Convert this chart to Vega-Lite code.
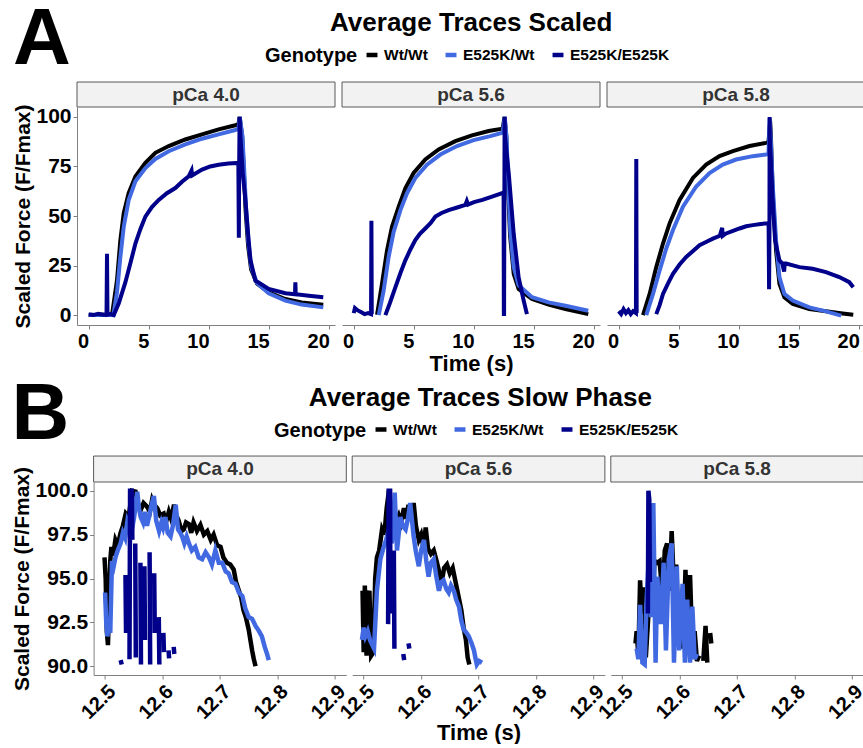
{
 "$schema": "https://vega.github.io/schema/vega-lite/v6.json",
 "padding": {"left": 11, "top": 0, "right": 0, "bottom": 0},
 "background": "white",
 "config": {
  "font": "Liberation Sans",
  "view": {"stroke": null},
  "axis": {"labelFont": "Liberation Sans", "labelFontSize": 20, "labelFontWeight": "bold", "labelColor": "#000000", "titleFont": "Liberation Sans", "titleFontSize": 21, "titleFontWeight": "bold", "titleColor": "#000000", "domainColor": "#808080", "tickColor": "#808080", "tickSize": 4, "grid": false, "labelPadding": 2, "labelFlush": false, "labelOverlap": false},
  "axisX": {"titleFontSize": 22},
  "axisY": {"labelFontSize": 21},
  "legend": {"direction": "horizontal", "titleOrient": "left", "titleFontSize": 20, "titleFontWeight": "bold", "titleColor": "#000000", "labelFontSize": 15.5, "labelFontWeight": "bold", "labelColor": "#000000", "symbolType": "stroke", "symbolStrokeWidth": 4.5, "symbolSize": 120, "columnPadding": 8, "labelOffset": 4, "titlePadding": 6},
  "title": {"font": "Liberation Sans", "fontWeight": "bold", "color": "#000000"}
 },
 "datasets": {
  "scaled": [
   {"p":"4.0","g":"Wt/Wt","t":0,"f":0.2},{"p":"4.0","g":"Wt/Wt","t":0.5,"f":0},{"p":"4.0","g":"Wt/Wt","t":1.0,"f":0.3},{"p":"4.0","g":"Wt/Wt","t":1.5,"f":0},{"p":"4.0","g":"Wt/Wt","t":1.94,"f":0.3},{"p":"4.0","g":"Wt/Wt","t":2.35,"f":17.5},{"p":"4.0","g":"Wt/Wt","t":2.63,"f":37.8},{"p":"4.0","g":"Wt/Wt","t":2.91,"f":51.4},{"p":"4.0","g":"Wt/Wt","t":3.32,"f":61.5},{"p":"4.0","g":"Wt/Wt","t":3.88,"f":70},{"p":"4.0","g":"Wt/Wt","t":4.71,"f":76.8},{"p":"4.0","g":"Wt/Wt","t":5.54,"f":81.9},{"p":"4.0","g":"Wt/Wt","t":6.65,"f":85.3},{"p":"4.0","g":"Wt/Wt","t":8.03,"f":88.6},{"p":"4.0","g":"Wt/Wt","t":9.42,"f":91.2},{"p":"4.0","g":"Wt/Wt","t":10.8,"f":93.7},{"p":"4.0","g":"Wt/Wt","t":12.19,"f":95.8},{"p":"4.0","g":"Wt/Wt","t":12.45,"f":96.3},{"p":"4.0","g":"Wt/Wt","t":12.55,"f":100},{"p":"4.0","g":"Wt/Wt","t":12.76,"f":90},{"p":"4.0","g":"Wt/Wt","t":12.9,"f":72},{"p":"4.0","g":"Wt/Wt","t":13.05,"f":52},{"p":"4.0","g":"Wt/Wt","t":13.25,"f":35},{"p":"4.0","g":"Wt/Wt","t":13.5,"f":23},{"p":"4.0","g":"Wt/Wt","t":14.0,"f":15.8},{"p":"4.0","g":"Wt/Wt","t":14.96,"f":11.5},{"p":"4.0","g":"Wt/Wt","t":16.35,"f":8.1},{"p":"4.0","g":"Wt/Wt","t":17.7,"f":6.4},{"p":"4.0","g":"Wt/Wt","t":19.5,"f":5.2},
   {"p":"4.0","g":"E525K/Wt","t":0,"f":0},{"p":"4.0","g":"E525K/Wt","t":0.5,"f":0.2},{"p":"4.0","g":"E525K/Wt","t":1.0,"f":0},{"p":"4.0","g":"E525K/Wt","t":1.5,"f":0.2},{"p":"4.0","g":"E525K/Wt","t":2.05,"f":0},{"p":"4.0","g":"E525K/Wt","t":2.35,"f":11.5},{"p":"4.0","g":"E525K/Wt","t":2.63,"f":29.3},{"p":"4.0","g":"E525K/Wt","t":2.91,"f":44.6},{"p":"4.0","g":"E525K/Wt","t":3.32,"f":58},{"p":"4.0","g":"E525K/Wt","t":3.88,"f":67.5},{"p":"4.0","g":"E525K/Wt","t":4.71,"f":74.2},{"p":"4.0","g":"E525K/Wt","t":5.54,"f":78.8},{"p":"4.0","g":"E525K/Wt","t":6.65,"f":82.7},{"p":"4.0","g":"E525K/Wt","t":8.03,"f":86.1},{"p":"4.0","g":"E525K/Wt","t":9.42,"f":89},{"p":"4.0","g":"E525K/Wt","t":10.8,"f":91.2},{"p":"4.0","g":"E525K/Wt","t":12.19,"f":93.4},{"p":"4.0","g":"E525K/Wt","t":12.45,"f":94},{"p":"4.0","g":"E525K/Wt","t":12.556,"f":100},{"p":"4.0","g":"E525K/Wt","t":12.78,"f":90.4},{"p":"4.0","g":"E525K/Wt","t":12.92,"f":74},{"p":"4.0","g":"E525K/Wt","t":13.07,"f":55},{"p":"4.0","g":"E525K/Wt","t":13.27,"f":37},{"p":"4.0","g":"E525K/Wt","t":13.52,"f":24},{"p":"4.0","g":"E525K/Wt","t":14.0,"f":16.1},{"p":"4.0","g":"E525K/Wt","t":14.96,"f":11},{"p":"4.0","g":"E525K/Wt","t":16.35,"f":7.3},{"p":"4.0","g":"E525K/Wt","t":17.7,"f":5.3},{"p":"4.0","g":"E525K/Wt","t":19.5,"f":3.9},
   {"p":"4.0","g":"E525K/E525K","t":0,"f":0.3},{"p":"4.0","g":"E525K/E525K","t":0.4,"f":0},{"p":"4.0","g":"E525K/E525K","t":0.8,"f":0.6},{"p":"4.0","g":"E525K/E525K","t":1.2,"f":0.2},{"p":"4.0","g":"E525K/E525K","t":1.48,"f":0.3},{"p":"4.0","g":"E525K/E525K","t":1.52,"f":31},{"p":"4.0","g":"E525K/E525K","t":1.56,"f":0.2},{"p":"4.0","g":"E525K/E525K","t":1.8,"f":0.5},{"p":"4.0","g":"E525K/E525K","t":2.08,"f":0},{"p":"4.0","g":"E525K/E525K","t":2.5,"f":6},{"p":"4.0","g":"E525K/E525K","t":3.05,"f":16.6},{"p":"4.0","g":"E525K/E525K","t":3.5,"f":27},{"p":"4.0","g":"E525K/E525K","t":3.88,"f":36.1},{"p":"4.0","g":"E525K/E525K","t":4.3,"f":43.5},{"p":"4.0","g":"E525K/E525K","t":4.71,"f":49.7},{"p":"4.0","g":"E525K/E525K","t":5.25,"f":54.5},{"p":"4.0","g":"E525K/E525K","t":5.82,"f":58.1},{"p":"4.0","g":"E525K/E525K","t":6.5,"f":61.5},{"p":"4.0","g":"E525K/E525K","t":7.2,"f":64.1},{"p":"4.0","g":"E525K/E525K","t":7.8,"f":67.5},{"p":"4.0","g":"E525K/E525K","t":8.31,"f":70},{"p":"4.0","g":"E525K/E525K","t":8.55,"f":73},{"p":"4.0","g":"E525K/E525K","t":8.6,"f":70.5},{"p":"4.0","g":"E525K/E525K","t":9.42,"f":73.4},{"p":"4.0","g":"E525K/E525K","t":10.1,"f":75},{"p":"4.0","g":"E525K/E525K","t":10.8,"f":75.9},{"p":"4.0","g":"E525K/E525K","t":11.6,"f":76.5},{"p":"4.0","g":"E525K/E525K","t":12.44,"f":76.8},{"p":"4.0","g":"E525K/E525K","t":12.48,"f":39},{"p":"4.0","g":"E525K/E525K","t":12.51,"f":78},{"p":"4.0","g":"E525K/E525K","t":12.545,"f":100},{"p":"4.0","g":"E525K/E525K","t":12.62,"f":90},{"p":"4.0","g":"E525K/E525K","t":12.8,"f":72},{"p":"4.0","g":"E525K/E525K","t":13.0,"f":60},{"p":"4.0","g":"E525K/E525K","t":13.25,"f":41},{"p":"4.0","g":"E525K/E525K","t":13.44,"f":28},{"p":"4.0","g":"E525K/E525K","t":13.85,"f":17.5},{"p":"4.0","g":"E525K/E525K","t":14.96,"f":13.2},{"p":"4.0","g":"E525K/E525K","t":16.35,"f":11},{"p":"4.0","g":"E525K/E525K","t":17.15,"f":10.5},{"p":"4.0","g":"E525K/E525K","t":17.18,"f":16.6},{"p":"4.0","g":"E525K/E525K","t":17.21,"f":10.5},{"p":"4.0","g":"E525K/E525K","t":18.3,"f":9.8},{"p":"4.0","g":"E525K/E525K","t":19.5,"f":9},
   {"p":"5.6","g":"Wt/Wt","t":1.94,"f":0.2},{"p":"5.6","g":"Wt/Wt","t":2.35,"f":15.8},{"p":"5.6","g":"Wt/Wt","t":2.77,"f":32.7},{"p":"5.6","g":"Wt/Wt","t":3.18,"f":44.6},{"p":"5.6","g":"Wt/Wt","t":3.74,"f":54.7},{"p":"5.6","g":"Wt/Wt","t":4.29,"f":64},{"p":"5.6","g":"Wt/Wt","t":4.98,"f":71.7},{"p":"5.6","g":"Wt/Wt","t":5.95,"f":78.5},{"p":"5.6","g":"Wt/Wt","t":7.06,"f":83.6},{"p":"5.6","g":"Wt/Wt","t":8.45,"f":87.8},{"p":"5.6","g":"Wt/Wt","t":9.83,"f":90.7},{"p":"5.6","g":"Wt/Wt","t":11.22,"f":92.9},{"p":"5.6","g":"Wt/Wt","t":12.38,"f":94.1},{"p":"5.6","g":"Wt/Wt","t":12.544,"f":100},{"p":"5.6","g":"Wt/Wt","t":12.684,"f":90},{"p":"5.6","g":"Wt/Wt","t":12.8,"f":68},{"p":"5.6","g":"Wt/Wt","t":13.0,"f":40},{"p":"5.6","g":"Wt/Wt","t":13.3,"f":20.8},{"p":"5.6","g":"Wt/Wt","t":13.71,"f":13.2},{"p":"5.6","g":"Wt/Wt","t":14.82,"f":8.1},{"p":"5.6","g":"Wt/Wt","t":16.2,"f":5.3},{"p":"5.6","g":"Wt/Wt","t":17.6,"f":3},{"p":"5.6","g":"Wt/Wt","t":19.5,"f":0.5},
   {"p":"5.6","g":"E525K/Wt","t":2.08,"f":0},{"p":"5.6","g":"E525K/Wt","t":2.49,"f":12.4},{"p":"5.6","g":"E525K/Wt","t":2.9,"f":29.3},{"p":"5.6","g":"E525K/Wt","t":3.32,"f":42},{"p":"5.6","g":"E525K/Wt","t":3.88,"f":53},{"p":"5.6","g":"E525K/Wt","t":4.43,"f":61.5},{"p":"5.6","g":"E525K/Wt","t":5.12,"f":69.2},{"p":"5.6","g":"E525K/Wt","t":6.09,"f":75.9},{"p":"5.6","g":"E525K/Wt","t":7.2,"f":81},{"p":"5.6","g":"E525K/Wt","t":8.59,"f":85.3},{"p":"5.6","g":"E525K/Wt","t":9.97,"f":88.3},{"p":"5.6","g":"E525K/Wt","t":11.36,"f":90.3},{"p":"5.6","g":"E525K/Wt","t":12.38,"f":92},{"p":"5.6","g":"E525K/Wt","t":12.554,"f":100},{"p":"5.6","g":"E525K/Wt","t":12.706,"f":90},{"p":"5.6","g":"E525K/Wt","t":12.82,"f":70},{"p":"5.6","g":"E525K/Wt","t":13.02,"f":42},{"p":"5.6","g":"E525K/Wt","t":13.3,"f":24.2},{"p":"5.6","g":"E525K/Wt","t":13.71,"f":15},{"p":"5.6","g":"E525K/Wt","t":14.82,"f":9},{"p":"5.6","g":"E525K/Wt","t":16.2,"f":6.4},{"p":"5.6","g":"E525K/Wt","t":17.6,"f":4.7},{"p":"5.6","g":"E525K/Wt","t":19.5,"f":2.2},
   {"p":"5.6","g":"E525K/E525K","t":0,"f":1},{"p":"5.6","g":"E525K/E525K","t":0.1,"f":3.5},{"p":"5.6","g":"E525K/E525K","t":0.3,"f":2.5},{"p":"5.6","g":"E525K/E525K","t":0.6,"f":1.5},{"p":"5.6","g":"E525K/E525K","t":0.9,"f":0.5},{"p":"5.6","g":"E525K/E525K","t":1.2,"f":1},{"p":"5.6","g":"E525K/E525K","t":1.44,"f":0.5},{"p":"5.6","g":"E525K/E525K","t":1.47,"f":47.6},{"p":"5.6","g":"E525K/E525K","t":1.5,"f":0.5},{"p":"5.6","g":"E525K/E525K","t":1.52,"f":null},{"p":"5.6","g":"E525K/E525K","t":2.63,"f":0},{"p":"5.6","g":"E525K/E525K","t":3.0,"f":6},{"p":"5.6","g":"E525K/E525K","t":3.46,"f":14},{"p":"5.6","g":"E525K/E525K","t":3.9,"f":21.5},{"p":"5.6","g":"E525K/E525K","t":4.29,"f":27.6},{"p":"5.6","g":"E525K/E525K","t":4.7,"f":33},{"p":"5.6","g":"E525K/E525K","t":5.12,"f":37.8},{"p":"5.6","g":"E525K/E525K","t":5.5,"f":41},{"p":"5.6","g":"E525K/E525K","t":5.95,"f":43.7},{"p":"5.6","g":"E525K/E525K","t":6.4,"f":46.5},{"p":"5.6","g":"E525K/E525K","t":6.79,"f":49.7},{"p":"5.6","g":"E525K/E525K","t":7.3,"f":51.5},{"p":"5.6","g":"E525K/E525K","t":7.89,"f":53},{"p":"5.6","g":"E525K/E525K","t":8.6,"f":54.3},{"p":"5.6","g":"E525K/E525K","t":9.28,"f":55.6},{"p":"5.6","g":"E525K/E525K","t":9.4,"f":57.5},{"p":"5.6","g":"E525K/E525K","t":9.5,"f":55.8},{"p":"5.6","g":"E525K/E525K","t":10.0,"f":57},{"p":"5.6","g":"E525K/E525K","t":10.7,"f":58.1},{"p":"5.6","g":"E525K/E525K","t":11.5,"f":59.8},{"p":"5.6","g":"E525K/E525K","t":12.33,"f":61.5},{"p":"5.6","g":"E525K/E525K","t":12.46,"f":62},{"p":"5.6","g":"E525K/E525K","t":12.48,"f":0.5},{"p":"5.6","g":"E525K/E525K","t":12.5,"f":0.5},{"p":"5.6","g":"E525K/E525K","t":12.543,"f":100},{"p":"5.6","g":"E525K/E525K","t":12.58,"f":90},{"p":"5.6","g":"E525K/E525K","t":12.88,"f":72},{"p":"5.6","g":"E525K/E525K","t":13.3,"f":41},{"p":"5.6","g":"E525K/E525K","t":13.71,"f":19},{"p":"5.6","g":"E525K/E525K","t":14.13,"f":7.3},{"p":"5.6","g":"E525K/E525K","t":14.4,"f":0.5},
   {"p":"5.8","g":"Wt/Wt","t":2.02,"f":0},{"p":"5.8","g":"Wt/Wt","t":2.57,"f":10.7},{"p":"5.8","g":"Wt/Wt","t":3.12,"f":24.2},{"p":"5.8","g":"Wt/Wt","t":3.68,"f":36.1},{"p":"5.8","g":"Wt/Wt","t":4.23,"f":46.3},{"p":"5.8","g":"Wt/Wt","t":5.06,"f":58.1},{"p":"5.8","g":"Wt/Wt","t":6.17,"f":69.2},{"p":"5.8","g":"Wt/Wt","t":7.27,"f":75.9},{"p":"5.8","g":"Wt/Wt","t":8.38,"f":80.2},{"p":"5.8","g":"Wt/Wt","t":9.49,"f":82.7},{"p":"5.8","g":"Wt/Wt","t":10.87,"f":85.3},{"p":"5.8","g":"Wt/Wt","t":12.25,"f":86.9},{"p":"5.8","g":"Wt/Wt","t":12.45,"f":87.2},{"p":"5.8","g":"Wt/Wt","t":12.59,"f":97.7},{"p":"5.8","g":"Wt/Wt","t":12.655,"f":90},{"p":"5.8","g":"Wt/Wt","t":12.8,"f":62},{"p":"5.8","g":"Wt/Wt","t":13.08,"f":32.7},{"p":"5.8","g":"Wt/Wt","t":13.36,"f":15.8},{"p":"5.8","g":"Wt/Wt","t":13.77,"f":9},{"p":"5.8","g":"Wt/Wt","t":14.47,"f":5.6},{"p":"5.8","g":"Wt/Wt","t":15.85,"f":3},{"p":"5.8","g":"Wt/Wt","t":17.23,"f":1.9},{"p":"5.8","g":"Wt/Wt","t":18.61,"f":0.8},{"p":"5.8","g":"Wt/Wt","t":19.5,"f":0.2},
   {"p":"5.8","g":"E525K/Wt","t":2.29,"f":0},{"p":"5.8","g":"E525K/Wt","t":2.85,"f":10.7},{"p":"5.8","g":"E525K/Wt","t":3.4,"f":22.5},{"p":"5.8","g":"E525K/Wt","t":3.95,"f":33.6},{"p":"5.8","g":"E525K/Wt","t":4.51,"f":42.9},{"p":"5.8","g":"E525K/Wt","t":5.34,"f":54.7},{"p":"5.8","g":"E525K/Wt","t":6.44,"f":64.9},{"p":"5.8","g":"E525K/Wt","t":7.55,"f":71.7},{"p":"5.8","g":"E525K/Wt","t":8.65,"f":75.9},{"p":"5.8","g":"E525K/Wt","t":9.76,"f":78.5},{"p":"5.8","g":"E525K/Wt","t":11.15,"f":80.2},{"p":"5.8","g":"E525K/Wt","t":12.25,"f":81},{"p":"5.8","g":"E525K/Wt","t":12.45,"f":81.2},{"p":"5.8","g":"E525K/Wt","t":12.554,"f":99.3},{"p":"5.8","g":"E525K/Wt","t":12.63,"f":90},{"p":"5.8","g":"E525K/Wt","t":12.8,"f":66},{"p":"5.8","g":"E525K/Wt","t":13.08,"f":37.8},{"p":"5.8","g":"E525K/Wt","t":13.36,"f":19.2},{"p":"5.8","g":"E525K/Wt","t":13.77,"f":10.7},{"p":"5.8","g":"E525K/Wt","t":14.47,"f":7.3},{"p":"5.8","g":"E525K/Wt","t":15.85,"f":3.9},{"p":"5.8","g":"E525K/Wt","t":17.23,"f":1.9},{"p":"5.8","g":"E525K/Wt","t":18.34,"f":0},{"p":"5.8","g":"E525K/Wt","t":18.5,"f":-0.3},
   {"p":"5.8","g":"E525K/E525K","t":0,"f":2},{"p":"5.8","g":"E525K/E525K","t":0.2,"f":0.5},{"p":"5.8","g":"E525K/E525K","t":0.4,"f":3},{"p":"5.8","g":"E525K/E525K","t":0.6,"f":1},{"p":"5.8","g":"E525K/E525K","t":0.8,"f":2.5},{"p":"5.8","g":"E525K/E525K","t":1.0,"f":0.5},{"p":"5.8","g":"E525K/E525K","t":1.2,"f":2},{"p":"5.8","g":"E525K/E525K","t":1.43,"f":1},{"p":"5.8","g":"E525K/E525K","t":1.46,"f":78.8},{"p":"5.8","g":"E525K/E525K","t":1.49,"f":1},{"p":"5.8","g":"E525K/E525K","t":1.52,"f":null},{"p":"5.8","g":"E525K/E525K","t":3.12,"f":0.5},{"p":"5.8","g":"E525K/E525K","t":3.4,"f":5},{"p":"5.8","g":"E525K/E525K","t":3.68,"f":10.7},{"p":"5.8","g":"E525K/E525K","t":4.1,"f":16},{"p":"5.8","g":"E525K/E525K","t":4.51,"f":20.8},{"p":"5.8","g":"E525K/E525K","t":5.06,"f":25.5},{"p":"5.8","g":"E525K/E525K","t":5.61,"f":29.3},{"p":"5.8","g":"E525K/E525K","t":6.2,"f":32.5},{"p":"5.8","g":"E525K/E525K","t":6.72,"f":35.3},{"p":"5.8","g":"E525K/E525K","t":7.3,"f":37},{"p":"5.8","g":"E525K/E525K","t":7.83,"f":38.6},{"p":"5.8","g":"E525K/E525K","t":8.4,"f":40},{"p":"5.8","g":"E525K/E525K","t":8.6,"f":44},{"p":"5.8","g":"E525K/E525K","t":8.65,"f":40},{"p":"5.8","g":"E525K/E525K","t":8.93,"f":41.2},{"p":"5.8","g":"E525K/E525K","t":9.5,"f":42.5},{"p":"5.8","g":"E525K/E525K","t":10.04,"f":43.7},{"p":"5.8","g":"E525K/E525K","t":10.6,"f":44.8},{"p":"5.8","g":"E525K/E525K","t":11.15,"f":45.4},{"p":"5.8","g":"E525K/E525K","t":11.8,"f":46},{"p":"5.8","g":"E525K/E525K","t":12.39,"f":46.3},{"p":"5.8","g":"E525K/E525K","t":12.46,"f":46.5},{"p":"5.8","g":"E525K/E525K","t":12.5,"f":13},{"p":"5.8","g":"E525K/E525K","t":12.53,"f":40},{"p":"5.8","g":"E525K/E525K","t":12.545,"f":100},{"p":"5.8","g":"E525K/E525K","t":12.56,"f":90},{"p":"5.8","g":"E525K/E525K","t":12.8,"f":58},{"p":"5.8","g":"E525K/E525K","t":13.0,"f":37.8},{"p":"5.8","g":"E525K/E525K","t":13.36,"f":27.6},{"p":"5.8","g":"E525K/E525K","t":13.6,"f":26},{"p":"5.8","g":"E525K/E525K","t":13.75,"f":22},{"p":"5.8","g":"E525K/E525K","t":13.8,"f":26},{"p":"5.8","g":"E525K/E525K","t":13.91,"f":26},{"p":"5.8","g":"E525K/E525K","t":15.02,"f":24.2},{"p":"5.8","g":"E525K/E525K","t":16.12,"f":23.4},{"p":"5.8","g":"E525K/E525K","t":17.23,"f":21.7},{"p":"5.8","g":"E525K/E525K","t":18.34,"f":19.2},{"p":"5.8","g":"E525K/E525K","t":19.17,"f":16.6},{"p":"5.8","g":"E525K/E525K","t":19.5,"f":14}
  ],
  "slow": [
   {"p":"4.0","g":"Wt/Wt","t":12.499,"f":96.2},{"p":"4.0","g":"Wt/Wt","t":12.501,"f":95.0},{"p":"4.0","g":"Wt/Wt","t":12.503,"f":92.0},{"p":"4.0","g":"Wt/Wt","t":12.505,"f":91.2},{"p":"4.0","g":"Wt/Wt","t":12.507,"f":93.5},{"p":"4.0","g":"Wt/Wt","t":12.509,"f":96.0},{"p":"4.0","g":"Wt/Wt","t":12.511,"f":96.8},{"p":"4.0","g":"Wt/Wt","t":12.514,"f":96.3},{"p":"4.0","g":"Wt/Wt","t":12.518,"f":97.2},{"p":"4.0","g":"Wt/Wt","t":12.522,"f":96.9},{"p":"4.0","g":"Wt/Wt","t":12.527,"f":97.6},{"p":"4.0","g":"Wt/Wt","t":12.531,"f":98.0},{"p":"4.0","g":"Wt/Wt","t":12.536,"f":98.7},{"p":"4.0","g":"Wt/Wt","t":12.541,"f":98.5},{"p":"4.0","g":"Wt/Wt","t":12.544,"f":99.2},{"p":"4.0","g":"Wt/Wt","t":12.547,"f":100.0},{"p":"4.0","g":"Wt/Wt","t":12.553,"f":99.95},{"p":"4.0","g":"Wt/Wt","t":12.557,"f":99.3},{"p":"4.0","g":"Wt/Wt","t":12.562,"f":98.9},{"p":"4.0","g":"Wt/Wt","t":12.567,"f":99.3},{"p":"4.0","g":"Wt/Wt","t":12.573,"f":99.1},{"p":"4.0","g":"Wt/Wt","t":12.578,"f":98.8},{"p":"4.0","g":"Wt/Wt","t":12.582,"f":99.5},{"p":"4.0","g":"Wt/Wt","t":12.586,"f":99.2},{"p":"4.0","g":"Wt/Wt","t":12.591,"f":99.0},{"p":"4.0","g":"Wt/Wt","t":12.596,"f":98.6},{"p":"4.0","g":"Wt/Wt","t":12.602,"f":98.7},{"p":"4.0","g":"Wt/Wt","t":12.606,"f":98.2},{"p":"4.0","g":"Wt/Wt","t":12.611,"f":98.8},{"p":"4.0","g":"Wt/Wt","t":12.615,"f":98.4},{"p":"4.0","g":"Wt/Wt","t":12.62,"f":99.2},{"p":"4.0","g":"Wt/Wt","t":12.624,"f":98.6},{"p":"4.0","g":"Wt/Wt","t":12.628,"f":98.3},{"p":"4.0","g":"Wt/Wt","t":12.633,"f":97.7},{"p":"4.0","g":"Wt/Wt","t":12.637,"f":97.8},{"p":"4.0","g":"Wt/Wt","t":12.641,"f":98.2},{"p":"4.0","g":"Wt/Wt","t":12.646,"f":98.1},{"p":"4.0","g":"Wt/Wt","t":12.65,"f":97.6},{"p":"4.0","g":"Wt/Wt","t":12.654,"f":98.2},{"p":"4.0","g":"Wt/Wt","t":12.66,"f":97.7},{"p":"4.0","g":"Wt/Wt","t":12.666,"f":98.05},{"p":"4.0","g":"Wt/Wt","t":12.672,"f":97.5},{"p":"4.0","g":"Wt/Wt","t":12.678,"f":97.7},{"p":"4.0","g":"Wt/Wt","t":12.684,"f":97.2},{"p":"4.0","g":"Wt/Wt","t":12.689,"f":97.5},{"p":"4.0","g":"Wt/Wt","t":12.695,"f":96.9},{"p":"4.0","g":"Wt/Wt","t":12.701,"f":96.8},{"p":"4.0","g":"Wt/Wt","t":12.706,"f":96.2},{"p":"4.0","g":"Wt/Wt","t":12.712,"f":95.9},{"p":"4.0","g":"Wt/Wt","t":12.718,"f":95.8},{"p":"4.0","g":"Wt/Wt","t":12.724,"f":95.5},{"p":"4.0","g":"Wt/Wt","t":12.728,"f":94.8},{"p":"4.0","g":"Wt/Wt","t":12.733,"f":94.3},{"p":"4.0","g":"Wt/Wt","t":12.737,"f":93.9},{"p":"4.0","g":"Wt/Wt","t":12.741,"f":93.2},{"p":"4.0","g":"Wt/Wt","t":12.745,"f":92.8},{"p":"4.0","g":"Wt/Wt","t":12.75,"f":92.1},{"p":"4.0","g":"Wt/Wt","t":12.753,"f":91.5},{"p":"4.0","g":"Wt/Wt","t":12.756,"f":90.9},{"p":"4.0","g":"Wt/Wt","t":12.759,"f":90.4},{"p":"4.0","g":"Wt/Wt","t":12.762,"f":90.0},
   {"p":"4.0","g":"E525K/Wt","t":12.5,"f":94.2},{"p":"4.0","g":"E525K/Wt","t":12.502,"f":92.5},{"p":"4.0","g":"E525K/Wt","t":12.504,"f":91.7},{"p":"4.0","g":"E525K/Wt","t":12.507,"f":92.5},{"p":"4.0","g":"E525K/Wt","t":12.509,"f":91.9},{"p":"4.0","g":"E525K/Wt","t":12.512,"f":96.0},{"p":"4.0","g":"E525K/Wt","t":12.515,"f":95.7},{"p":"4.0","g":"E525K/Wt","t":12.518,"f":96.2},{"p":"4.0","g":"E525K/Wt","t":12.522,"f":96.6},{"p":"4.0","g":"E525K/Wt","t":12.527,"f":97.0},{"p":"4.0","g":"E525K/Wt","t":12.531,"f":97.6},{"p":"4.0","g":"E525K/Wt","t":12.535,"f":97.3},{"p":"4.0","g":"E525K/Wt","t":12.539,"f":98.3},{"p":"4.0","g":"E525K/Wt","t":12.543,"f":98.0},{"p":"4.0","g":"E525K/Wt","t":12.547,"f":97.8},{"p":"4.0","g":"E525K/Wt","t":12.551,"f":98.6},{"p":"4.0","g":"E525K/Wt","t":12.556,"f":99.95},{"p":"4.0","g":"E525K/Wt","t":12.559,"f":99.0},{"p":"4.0","g":"E525K/Wt","t":12.562,"f":98.5},{"p":"4.0","g":"E525K/Wt","t":12.566,"f":98.2},{"p":"4.0","g":"E525K/Wt","t":12.569,"f":98.8},{"p":"4.0","g":"E525K/Wt","t":12.573,"f":98.0},{"p":"4.0","g":"E525K/Wt","t":12.577,"f":98.6},{"p":"4.0","g":"E525K/Wt","t":12.581,"f":99.2},{"p":"4.0","g":"E525K/Wt","t":12.585,"f":99.7},{"p":"4.0","g":"E525K/Wt","t":12.589,"f":98.3},{"p":"4.0","g":"E525K/Wt","t":12.594,"f":97.7},{"p":"4.0","g":"E525K/Wt","t":12.598,"f":98.2},{"p":"4.0","g":"E525K/Wt","t":12.601,"f":97.9},{"p":"4.0","g":"E525K/Wt","t":12.605,"f":98.5},{"p":"4.0","g":"E525K/Wt","t":12.609,"f":97.6},{"p":"4.0","g":"E525K/Wt","t":12.614,"f":97.4},{"p":"4.0","g":"E525K/Wt","t":12.618,"f":98.0},{"p":"4.0","g":"E525K/Wt","t":12.623,"f":99.2},{"p":"4.0","g":"E525K/Wt","t":12.627,"f":97.8},{"p":"4.0","g":"E525K/Wt","t":12.631,"f":97.6},{"p":"4.0","g":"E525K/Wt","t":12.634,"f":97.4},{"p":"4.0","g":"E525K/Wt","t":12.638,"f":97.0},{"p":"4.0","g":"E525K/Wt","t":12.642,"f":97.4},{"p":"4.0","g":"E525K/Wt","t":12.646,"f":97.0},{"p":"4.0","g":"E525K/Wt","t":12.651,"f":96.6},{"p":"4.0","g":"E525K/Wt","t":12.657,"f":96.8},{"p":"4.0","g":"E525K/Wt","t":12.663,"f":96.2},{"p":"4.0","g":"E525K/Wt","t":12.669,"f":96.1},{"p":"4.0","g":"E525K/Wt","t":12.675,"f":96.5},{"p":"4.0","g":"E525K/Wt","t":12.681,"f":96.2},{"p":"4.0","g":"E525K/Wt","t":12.686,"f":95.8},{"p":"4.0","g":"E525K/Wt","t":12.692,"f":96.6},{"p":"4.0","g":"E525K/Wt","t":12.698,"f":95.9},{"p":"4.0","g":"E525K/Wt","t":12.704,"f":95.9},{"p":"4.0","g":"E525K/Wt","t":12.71,"f":95.4},{"p":"4.0","g":"E525K/Wt","t":12.715,"f":95.3},{"p":"4.0","g":"E525K/Wt","t":12.721,"f":94.8},{"p":"4.0","g":"E525K/Wt","t":12.727,"f":94.7},{"p":"4.0","g":"E525K/Wt","t":12.733,"f":94.2},{"p":"4.0","g":"E525K/Wt","t":12.739,"f":94.0},{"p":"4.0","g":"E525K/Wt","t":12.744,"f":93.3},{"p":"4.0","g":"E525K/Wt","t":12.75,"f":92.8},{"p":"4.0","g":"E525K/Wt","t":12.756,"f":92.7},{"p":"4.0","g":"E525K/Wt","t":12.762,"f":92.3},{"p":"4.0","g":"E525K/Wt","t":12.768,"f":92.0},{"p":"4.0","g":"E525K/Wt","t":12.773,"f":91.7},{"p":"4.0","g":"E525K/Wt","t":12.778,"f":91.1},{"p":"4.0","g":"E525K/Wt","t":12.782,"f":90.7},{"p":"4.0","g":"E525K/Wt","t":12.785,"f":90.35},
   {"p":"4.0","g":"E525K/E525K","t":12.527,"f":90.35},{"p":"4.0","g":"E525K/E525K","t":12.529,"f":90.1},{"p":"4.0","g":"E525K/E525K","t":12.53,"f":null},{"p":"4.0","g":"E525K/E525K","t":12.5355,"f":95.2},{"p":"4.0","g":"E525K/E525K","t":12.5365,"f":91.9},{"p":"4.0","g":"E525K/E525K","t":12.538,"f":null},{"p":"4.0","g":"E525K/E525K","t":12.5425,"f":90.4},{"p":"4.0","g":"E525K/E525K","t":12.5435,"f":100},{"p":"4.0","g":"E525K/E525K","t":12.5465,"f":100},{"p":"4.0","g":"E525K/E525K","t":12.5475,"f":97.2},{"p":"4.0","g":"E525K/E525K","t":12.549,"f":null},{"p":"4.0","g":"E525K/E525K","t":12.5525,"f":97.0},{"p":"4.0","g":"E525K/E525K","t":12.5535,"f":90.5},{"p":"4.0","g":"E525K/E525K","t":12.555,"f":null},{"p":"4.0","g":"E525K/E525K","t":12.5615,"f":95.9},{"p":"4.0","g":"E525K/E525K","t":12.5625,"f":90.1},{"p":"4.0","g":"E525K/E525K","t":12.564,"f":null},{"p":"4.0","g":"E525K/E525K","t":12.5685,"f":95.7},{"p":"4.0","g":"E525K/E525K","t":12.5695,"f":91.5},{"p":"4.0","g":"E525K/E525K","t":12.571,"f":null},{"p":"4.0","g":"E525K/E525K","t":12.5775,"f":96.5},{"p":"4.0","g":"E525K/E525K","t":12.5785,"f":90.1},{"p":"4.0","g":"E525K/E525K","t":12.58,"f":null},{"p":"4.0","g":"E525K/E525K","t":12.5855,"f":95.3},{"p":"4.0","g":"E525K/E525K","t":12.5865,"f":91.9},{"p":"4.0","g":"E525K/E525K","t":12.588,"f":null},{"p":"4.0","g":"E525K/E525K","t":12.5935,"f":92.8},{"p":"4.0","g":"E525K/E525K","t":12.5945,"f":90.1},{"p":"4.0","g":"E525K/E525K","t":12.596,"f":null},{"p":"4.0","g":"E525K/E525K","t":12.6015,"f":91.9},{"p":"4.0","g":"E525K/E525K","t":12.6025,"f":90.8},{"p":"4.0","g":"E525K/E525K","t":12.604,"f":null},{"p":"4.0","g":"E525K/E525K","t":12.6105,"f":90.9},{"p":"4.0","g":"E525K/E525K","t":12.6115,"f":90.45},{"p":"4.0","g":"E525K/E525K","t":12.613,"f":null},{"p":"4.0","g":"E525K/E525K","t":12.6195,"f":91.1},{"p":"4.0","g":"E525K/E525K","t":12.6205,"f":90.7},
   {"p":"5.6","g":"Wt/Wt","t":12.498,"f":94.3},{"p":"5.6","g":"Wt/Wt","t":12.5,"f":90.8},{"p":"5.6","g":"Wt/Wt","t":12.502,"f":94.6},{"p":"5.6","g":"Wt/Wt","t":12.505,"f":90.6},{"p":"5.6","g":"Wt/Wt","t":12.508,"f":94.0},{"p":"5.6","g":"Wt/Wt","t":12.51,"f":94.3},{"p":"5.6","g":"Wt/Wt","t":12.513,"f":90.6},{"p":"5.6","g":"Wt/Wt","t":12.517,"f":90.8},{"p":"5.6","g":"Wt/Wt","t":12.52,"f":95.0},{"p":"5.6","g":"Wt/Wt","t":12.523,"f":96.2},{"p":"5.6","g":"Wt/Wt","t":12.527,"f":96.6},{"p":"5.6","g":"Wt/Wt","t":12.532,"f":97.8},{"p":"5.6","g":"Wt/Wt","t":12.536,"f":97.5},{"p":"5.6","g":"Wt/Wt","t":12.54,"f":99.0},{"p":"5.6","g":"Wt/Wt","t":12.544,"f":100.0},{"p":"5.6","g":"Wt/Wt","t":12.548,"f":98.0},{"p":"5.6","g":"Wt/Wt","t":12.552,"f":98.9},{"p":"5.6","g":"Wt/Wt","t":12.557,"f":98.3},{"p":"5.6","g":"Wt/Wt","t":12.561,"f":98.6},{"p":"5.6","g":"Wt/Wt","t":12.565,"f":98.2},{"p":"5.6","g":"Wt/Wt","t":12.57,"f":99.0},{"p":"5.6","g":"Wt/Wt","t":12.574,"f":98.4},{"p":"5.6","g":"Wt/Wt","t":12.578,"f":99.2},{"p":"5.6","g":"Wt/Wt","t":12.582,"f":98.3},{"p":"5.6","g":"Wt/Wt","t":12.587,"f":99.3},{"p":"5.6","g":"Wt/Wt","t":12.591,"f":98.0},{"p":"5.6","g":"Wt/Wt","t":12.596,"f":97.2},{"p":"5.6","g":"Wt/Wt","t":12.6,"f":97.5},{"p":"5.6","g":"Wt/Wt","t":12.604,"f":96.8},{"p":"5.6","g":"Wt/Wt","t":12.608,"f":97.9},{"p":"5.6","g":"Wt/Wt","t":12.612,"f":96.7},{"p":"5.6","g":"Wt/Wt","t":12.617,"f":96.4},{"p":"5.6","g":"Wt/Wt","t":12.622,"f":96.6},{"p":"5.6","g":"Wt/Wt","t":12.627,"f":96.0},{"p":"5.6","g":"Wt/Wt","t":12.632,"f":95.3},{"p":"5.6","g":"Wt/Wt","t":12.636,"f":94.8},{"p":"5.6","g":"Wt/Wt","t":12.64,"f":95.6},{"p":"5.6","g":"Wt/Wt","t":12.645,"f":95.8},{"p":"5.6","g":"Wt/Wt","t":12.65,"f":95.3},{"p":"5.6","g":"Wt/Wt","t":12.655,"f":95.6},{"p":"5.6","g":"Wt/Wt","t":12.66,"f":94.8},{"p":"5.6","g":"Wt/Wt","t":12.665,"f":94.0},{"p":"5.6","g":"Wt/Wt","t":12.67,"f":93.2},{"p":"5.6","g":"Wt/Wt","t":12.674,"f":92.2},{"p":"5.6","g":"Wt/Wt","t":12.678,"f":91.5},{"p":"5.6","g":"Wt/Wt","t":12.681,"f":90.5},{"p":"5.6","g":"Wt/Wt","t":12.684,"f":90.1},
   {"p":"5.6","g":"E525K/Wt","t":12.497,"f":91.5},{"p":"5.6","g":"E525K/Wt","t":12.5,"f":92.2},{"p":"5.6","g":"E525K/Wt","t":12.503,"f":91.7},{"p":"5.6","g":"E525K/Wt","t":12.507,"f":92.0},{"p":"5.6","g":"E525K/Wt","t":12.511,"f":91.5},{"p":"5.6","g":"E525K/Wt","t":12.515,"f":91.2},{"p":"5.6","g":"E525K/Wt","t":12.518,"f":91.0},{"p":"5.6","g":"E525K/Wt","t":12.523,"f":94.3},{"p":"5.6","g":"E525K/Wt","t":12.529,"f":96.1},{"p":"5.6","g":"E525K/Wt","t":12.534,"f":96.7},{"p":"5.6","g":"E525K/Wt","t":12.539,"f":97.2},{"p":"5.6","g":"E525K/Wt","t":12.544,"f":97.8},{"p":"5.6","g":"E525K/Wt","t":12.549,"f":97.0},{"p":"5.6","g":"E525K/Wt","t":12.552,"f":98.5},{"p":"5.6","g":"E525K/Wt","t":12.554,"f":99.9},{"p":"5.6","g":"E525K/Wt","t":12.558,"f":96.6},{"p":"5.6","g":"E525K/Wt","t":12.564,"f":98.5},{"p":"5.6","g":"E525K/Wt","t":12.568,"f":98.0},{"p":"5.6","g":"E525K/Wt","t":12.573,"f":97.8},{"p":"5.6","g":"E525K/Wt","t":12.577,"f":98.4},{"p":"5.6","g":"E525K/Wt","t":12.581,"f":99.3},{"p":"5.6","g":"E525K/Wt","t":12.587,"f":97.4},{"p":"5.6","g":"E525K/Wt","t":12.591,"f":96.5},{"p":"5.6","g":"E525K/Wt","t":12.596,"f":95.7},{"p":"5.6","g":"E525K/Wt","t":12.6,"f":96.6},{"p":"5.6","g":"E525K/Wt","t":12.605,"f":97.2},{"p":"5.6","g":"E525K/Wt","t":12.609,"f":96.0},{"p":"5.6","g":"E525K/Wt","t":12.613,"f":95.1},{"p":"5.6","g":"E525K/Wt","t":12.617,"f":95.9},{"p":"5.6","g":"E525K/Wt","t":12.622,"f":96.1},{"p":"5.6","g":"E525K/Wt","t":12.626,"f":95.2},{"p":"5.6","g":"E525K/Wt","t":12.631,"f":94.3},{"p":"5.6","g":"E525K/Wt","t":12.635,"f":94.8},{"p":"5.6","g":"E525K/Wt","t":12.639,"f":94.9},{"p":"5.6","g":"E525K/Wt","t":12.644,"f":94.4},{"p":"5.6","g":"E525K/Wt","t":12.648,"f":94.2},{"p":"5.6","g":"E525K/Wt","t":12.652,"f":94.6},{"p":"5.6","g":"E525K/Wt","t":12.657,"f":94.3},{"p":"5.6","g":"E525K/Wt","t":12.661,"f":93.8},{"p":"5.6","g":"E525K/Wt","t":12.666,"f":93.4},{"p":"5.6","g":"E525K/Wt","t":12.67,"f":92.6},{"p":"5.6","g":"E525K/Wt","t":12.674,"f":92.1},{"p":"5.6","g":"E525K/Wt","t":12.679,"f":91.9},{"p":"5.6","g":"E525K/Wt","t":12.683,"f":91.7},{"p":"5.6","g":"E525K/Wt","t":12.688,"f":91.3},{"p":"5.6","g":"E525K/Wt","t":12.692,"f":90.9},{"p":"5.6","g":"E525K/Wt","t":12.695,"f":90.4},{"p":"5.6","g":"E525K/Wt","t":12.697,"f":90.1},{"p":"5.6","g":"E525K/Wt","t":12.701,"f":90.3},{"p":"5.6","g":"E525K/Wt","t":12.706,"f":90.2},
   {"p":"5.6","g":"E525K/E525K","t":12.5425,"f":92.4},{"p":"5.6","g":"E525K/E525K","t":12.5435,"f":100},{"p":"5.6","g":"E525K/E525K","t":12.546,"f":100},{"p":"5.6","g":"E525K/E525K","t":12.5465,"f":93},{"p":"5.6","g":"E525K/E525K","t":12.548,"f":null},{"p":"5.6","g":"E525K/E525K","t":12.5525,"f":96.6},{"p":"5.6","g":"E525K/E525K","t":12.5535,"f":91.0},{"p":"5.6","g":"E525K/E525K","t":12.555,"f":null},{"p":"5.6","g":"E525K/E525K","t":12.569,"f":90.7},{"p":"5.6","g":"E525K/E525K","t":12.5705,"f":90.35},{"p":"5.6","g":"E525K/E525K","t":12.572,"f":null},{"p":"5.6","g":"E525K/E525K","t":12.578,"f":91.3},{"p":"5.6","g":"E525K/E525K","t":12.5795,"f":91.0},
   {"p":"5.8","g":"Wt/Wt","t":12.523,"f":91.3},{"p":"5.8","g":"Wt/Wt","t":12.525,"f":92.0},{"p":"5.8","g":"Wt/Wt","t":12.528,"f":90.6},{"p":"5.8","g":"Wt/Wt","t":12.531,"f":94.9},{"p":"5.8","g":"Wt/Wt","t":12.534,"f":93.0},{"p":"5.8","g":"Wt/Wt","t":12.538,"f":94.5},{"p":"5.8","g":"Wt/Wt","t":12.541,"f":90.5},{"p":"5.8","g":"Wt/Wt","t":12.546,"f":93.2},{"p":"5.8","g":"Wt/Wt","t":12.55,"f":95.0},{"p":"5.8","g":"Wt/Wt","t":12.553,"f":94.0},{"p":"5.8","g":"Wt/Wt","t":12.556,"f":96.0},{"p":"5.8","g":"Wt/Wt","t":12.561,"f":95.9},{"p":"5.8","g":"Wt/Wt","t":12.565,"f":96.0},{"p":"5.8","g":"Wt/Wt","t":12.57,"f":94.0},{"p":"5.8","g":"Wt/Wt","t":12.574,"f":96.6},{"p":"5.8","g":"Wt/Wt","t":12.578,"f":97.0},{"p":"5.8","g":"Wt/Wt","t":12.582,"f":94.3},{"p":"5.8","g":"Wt/Wt","t":12.586,"f":97.7},{"p":"5.8","g":"Wt/Wt","t":12.59,"f":94.5},{"p":"5.8","g":"Wt/Wt","t":12.594,"f":95.8},{"p":"5.8","g":"Wt/Wt","t":12.598,"f":91.8},{"p":"5.8","g":"Wt/Wt","t":12.602,"f":93.6},{"p":"5.8","g":"Wt/Wt","t":12.606,"f":91.0},{"p":"5.8","g":"Wt/Wt","t":12.61,"f":95.5},{"p":"5.8","g":"Wt/Wt","t":12.614,"f":92.0},{"p":"5.8","g":"Wt/Wt","t":12.618,"f":95.2},{"p":"5.8","g":"Wt/Wt","t":12.622,"f":91.0},{"p":"5.8","g":"Wt/Wt","t":12.626,"f":92.0},{"p":"5.8","g":"Wt/Wt","t":12.63,"f":90.3},{"p":"5.8","g":"Wt/Wt","t":12.634,"f":90.6},{"p":"5.8","g":"Wt/Wt","t":12.636,"f":null},{"p":"5.8","g":"Wt/Wt","t":12.641,"f":90.3},{"p":"5.8","g":"Wt/Wt","t":12.645,"f":92.3},{"p":"5.8","g":"Wt/Wt","t":12.648,"f":90.2},{"p":"5.8","g":"Wt/Wt","t":12.65,"f":null},{"p":"5.8","g":"Wt/Wt","t":12.653,"f":91.9},{"p":"5.8","g":"Wt/Wt","t":12.655,"f":91.3},
   {"p":"5.8","g":"E525K/Wt","t":12.525,"f":91.0},{"p":"5.8","g":"E525K/Wt","t":12.528,"f":90.4},{"p":"5.8","g":"E525K/Wt","t":12.531,"f":93.5},{"p":"5.8","g":"E525K/Wt","t":12.535,"f":90.2},{"p":"5.8","g":"E525K/Wt","t":12.539,"f":90.1},{"p":"5.8","g":"E525K/Wt","t":12.542,"f":93.5},{"p":"5.8","g":"E525K/Wt","t":12.546,"f":96.0},{"p":"5.8","g":"E525K/Wt","t":12.55,"f":92.8},{"p":"5.8","g":"E525K/Wt","t":12.554,"f":99.3},{"p":"5.8","g":"E525K/Wt","t":12.558,"f":90.2},{"p":"5.8","g":"E525K/Wt","t":12.561,"f":95.1},{"p":"5.8","g":"E525K/Wt","t":12.567,"f":92.4},{"p":"5.8","g":"E525K/Wt","t":12.572,"f":95.9},{"p":"5.8","g":"E525K/Wt","t":12.576,"f":90.9},{"p":"5.8","g":"E525K/Wt","t":12.581,"f":96.1},{"p":"5.8","g":"E525K/Wt","t":12.586,"f":97.0},{"p":"5.8","g":"E525K/Wt","t":12.59,"f":90.2},{"p":"5.8","g":"E525K/Wt","t":12.595,"f":95.7},{"p":"5.8","g":"E525K/Wt","t":12.599,"f":90.9},{"p":"5.8","g":"E525K/Wt","t":12.605,"f":94.7},{"p":"5.8","g":"E525K/Wt","t":12.609,"f":90.2},{"p":"5.8","g":"E525K/Wt","t":12.613,"f":93.8},{"p":"5.8","g":"E525K/Wt","t":12.618,"f":90.2},{"p":"5.8","g":"E525K/Wt","t":12.622,"f":93.4},{"p":"5.8","g":"E525K/Wt","t":12.626,"f":90.4},{"p":"5.8","g":"E525K/Wt","t":12.63,"f":90.7},
   {"p":"5.8","g":"E525K/E525K","t":12.5445,"f":93.0},{"p":"5.8","g":"E525K/E525K","t":12.5455,"f":100},{"p":"5.8","g":"E525K/E525K","t":12.547,"f":99.5},{"p":"5.8","g":"E525K/E525K","t":12.548,"f":94.8}
  ]
 },
 "resolve": {"scale": {"color": "independent"}},
 "spacing": 0,
 "vconcat": [
  {
   "title": {"text": "A", "anchor": "start", "fontSize": 80, "offset": -71},
   "resolve": {"scale": {"color": "independent"}},
   "vconcat": [{
    "title": {"text": "Average Traces Scaled", "fontSize": 26, "anchor": "middle", "dx": 32, "offset": 11},
    "bounds": "flush",
    "spacing": 7,
    "hconcat": [
     {"width": 258, "height": 243, "layer": [
      {"data": {"name": "scaled"}, "transform": [{"filter": "datum.p == '4.0'"}], "mark": {"type": "line", "strokeWidth": 4},
       "encoding": {"x": {"field": "t", "type": "quantitative", "scale": {"domain": [-0.975, 20.475], "nice": false, "zero": false}, "axis": {"values": [0,5,10,15,20], "labelAlign": "right", "title": null}},
        "y": {"field": "f", "type": "quantitative", "scale": {"domain": [-5, 105], "range": [243, 25], "nice": false, "zero": false}, "axis": {"values": [0,25,50,75,100], "title": "Scaled Force (F/Fmax)", "titlePadding": 2}},
        "color": {"field": "g", "type": "nominal", "title": "Genotype", "scale": {"domain": ["Wt/Wt","E525K/Wt","E525K/E525K"], "range": ["#000000","#4169E1","#00008B"]}, "legend": {"orient": "none", "legendX": 188, "legendY": -35}}}},
      {"data": {"values": [{"lab": "pCa 4.0"}]}, "mark": {"type": "rect", "fill": "#F2F2F2", "stroke": "#595959", "strokeWidth": 1}, "encoding": {"x": {"datum": -0.975}, "x2": {"datum": 20.475}, "y": {"datum": 105}, "y2": {"datum": 117.6}}},
      {"data": {"values": [{"lab": "pCa 4.0"}]}, "mark": {"type": "text", "fontSize": 19, "fontWeight": "bold", "color": "#333333"}, "encoding": {"x": {"datum": 9.75}, "y": {"datum": 111.3}, "text": {"field": "lab"}}}
     ]},
     {"width": 258, "height": 243, "layer": [
      {"data": {"name": "scaled"}, "transform": [{"filter": "datum.p == '5.6'"}], "mark": {"type": "line", "strokeWidth": 4},
       "encoding": {"x": {"field": "t", "type": "quantitative", "scale": {"domain": [-0.975, 20.475], "nice": false, "zero": false}, "axis": {"values": [0,5,10,15,20], "labelAlign": "right", "title": "Time (s)", "titlePadding": 2}},
        "y": {"field": "f", "type": "quantitative", "scale": {"domain": [-5, 105], "range": [243, 25], "nice": false, "zero": false}, "axis": null},
        "color": {"field": "g", "type": "nominal", "title": "Genotype", "scale": {"domain": ["Wt/Wt","E525K/Wt","E525K/E525K"], "range": ["#000000","#4169E1","#00008B"]}, "legend": {"orient": "none", "legendX": 188, "legendY": -35}}}},
      {"data": {"values": [{"lab": "pCa 5.6"}]}, "mark": {"type": "rect", "fill": "#F2F2F2", "stroke": "#595959", "strokeWidth": 1}, "encoding": {"x": {"datum": -0.975}, "x2": {"datum": 20.475}, "y": {"datum": 105}, "y2": {"datum": 117.6}}},
      {"data": {"values": [{"lab": "pCa 5.6"}]}, "mark": {"type": "text", "fontSize": 19, "fontWeight": "bold", "color": "#333333"}, "encoding": {"x": {"datum": 9.75}, "y": {"datum": 111.3}, "text": {"field": "lab"}}}
     ]},
     {"width": 258, "height": 243, "layer": [
      {"data": {"name": "scaled"}, "transform": [{"filter": "datum.p == '5.8'"}], "mark": {"type": "line", "strokeWidth": 4},
       "encoding": {"x": {"field": "t", "type": "quantitative", "scale": {"domain": [-0.975, 20.475], "nice": false, "zero": false}, "axis": {"values": [0,5,10,15,20], "labelAlign": "right", "title": null}},
        "y": {"field": "f", "type": "quantitative", "scale": {"domain": [-5, 105], "range": [243, 25], "nice": false, "zero": false}, "axis": null},
        "color": {"field": "g", "type": "nominal", "title": "Genotype", "scale": {"domain": ["Wt/Wt","E525K/Wt","E525K/E525K"], "range": ["#000000","#4169E1","#00008B"]}, "legend": {"orient": "none", "legendX": 188, "legendY": -35}}}},
      {"data": {"values": [{"lab": "pCa 5.8"}]}, "mark": {"type": "rect", "fill": "#F2F2F2", "stroke": "#595959", "strokeWidth": 1}, "encoding": {"x": {"datum": -0.975}, "x2": {"datum": 20.475}, "y": {"datum": 105}, "y2": {"datum": 117.6}}},
      {"data": {"values": [{"lab": "pCa 5.8"}]}, "mark": {"type": "text", "fontSize": 19, "fontWeight": "bold", "color": "#333333"}, "encoding": {"x": {"datum": 9.75}, "y": {"datum": 111.3}, "text": {"field": "lab"}}}
     ]}
    ]
   }]
  },
  {
   "title": {"text": "B", "anchor": "start", "fontSize": 80, "offset": -71},
   "resolve": {"scale": {"color": "independent"}},
   "vconcat": [{
    "title": {"text": "Average Traces Slow Phase", "fontSize": 26, "anchor": "middle", "dx": 41.5, "offset": 11},
    "bounds": "flush",
    "spacing": 5.6,
    "hconcat": [
     {"width": 10.4, "height": 219, "data": {"values": [{}]}, "mark": {"type": "point", "opacity": 0}},
     {"width": 252.7, "height": 219, "layer": [
      {"data": {"name": "slow"}, "transform": [{"filter": "datum.p == '4.0'"}], "mark": {"type": "line", "strokeWidth": 4.5},
       "encoding": {"x": {"field": "t", "type": "quantitative", "scale": {"domain": [12.48, 12.92], "nice": false, "zero": false}, "axis": {"values": [12.5,12.6,12.7,12.8,12.9], "format": ".1f", "labelAngle": -45, "labelAlign": "right", "labelBaseline": "top", "title": null}},
        "y": {"field": "f", "type": "quantitative", "scale": {"domain": [89.5, 100.5], "range": [219, 26], "nice": false, "zero": false}, "axis": {"values": [90,92.5,95,97.5,100], "format": ".1f", "title": "Scaled Force (F/Fmax)", "titlePadding": 2.5}},
        "color": {"field": "g", "type": "nominal", "title": "Genotype", "scale": {"domain": ["Wt/Wt","E525K/Wt","E525K/E525K"], "range": ["#000000","#4169E1","#00008B"]}, "legend": {"orient": "none", "legendX": 197, "legendY": -34.5}}}},
      {"data": {"values": [{"lab": "pCa 4.0"}]}, "mark": {"type": "rect", "fill": "#F2F2F2", "stroke": "#595959", "strokeWidth": 1}, "encoding": {"x": {"datum": 12.48}, "x2": {"datum": 12.92}, "y": {"datum": 100.5}, "y2": {"datum": 101.98}}},
      {"data": {"values": [{"lab": "pCa 4.0"}]}, "mark": {"type": "text", "fontSize": 19, "fontWeight": "bold", "color": "#333333"}, "encoding": {"x": {"datum": 12.7}, "y": {"datum": 101.24}, "text": {"field": "lab"}}}
     ]},
     {"width": 252.7, "height": 219, "layer": [
      {"data": {"name": "slow"}, "transform": [{"filter": "datum.p == '5.6'"}], "mark": {"type": "line", "strokeWidth": 4.5},
       "encoding": {"x": {"field": "t", "type": "quantitative", "scale": {"domain": [12.48, 12.92], "nice": false, "zero": false}, "axis": {"values": [12.5,12.6,12.7,12.8,12.9], "format": ".1f", "labelAngle": -45, "labelAlign": "right", "labelBaseline": "top", "title": "Time (s)", "titlePadding": 0}},
        "y": {"field": "f", "type": "quantitative", "scale": {"domain": [89.5, 100.5], "range": [219, 26], "nice": false, "zero": false}, "axis": null},
        "color": {"field": "g", "type": "nominal", "title": "Genotype", "scale": {"domain": ["Wt/Wt","E525K/Wt","E525K/E525K"], "range": ["#000000","#4169E1","#00008B"]}, "legend": {"orient": "none", "legendX": 197, "legendY": -34.5}}}},
      {"data": {"values": [{"lab": "pCa 5.6"}]}, "mark": {"type": "rect", "fill": "#F2F2F2", "stroke": "#595959", "strokeWidth": 1}, "encoding": {"x": {"datum": 12.48}, "x2": {"datum": 12.92}, "y": {"datum": 100.5}, "y2": {"datum": 101.98}}},
      {"data": {"values": [{"lab": "pCa 5.6"}]}, "mark": {"type": "text", "fontSize": 19, "fontWeight": "bold", "color": "#333333"}, "encoding": {"x": {"datum": 12.7}, "y": {"datum": 101.24}, "text": {"field": "lab"}}}
     ]},
     {"width": 252.7, "height": 219, "layer": [
      {"data": {"name": "slow"}, "transform": [{"filter": "datum.p == '5.8'"}], "mark": {"type": "line", "strokeWidth": 4.5},
       "encoding": {"x": {"field": "t", "type": "quantitative", "scale": {"domain": [12.48, 12.92], "nice": false, "zero": false}, "axis": {"values": [12.5,12.6,12.7,12.8,12.9], "format": ".1f", "labelAngle": -45, "labelAlign": "right", "labelBaseline": "top", "title": null}},
        "y": {"field": "f", "type": "quantitative", "scale": {"domain": [89.5, 100.5], "range": [219, 26], "nice": false, "zero": false}, "axis": null},
        "color": {"field": "g", "type": "nominal", "title": "Genotype", "scale": {"domain": ["Wt/Wt","E525K/Wt","E525K/E525K"], "range": ["#000000","#4169E1","#00008B"]}, "legend": {"orient": "none", "legendX": 197, "legendY": -34.5}}}},
      {"data": {"values": [{"lab": "pCa 5.8"}]}, "mark": {"type": "rect", "fill": "#F2F2F2", "stroke": "#595959", "strokeWidth": 1}, "encoding": {"x": {"datum": 12.48}, "x2": {"datum": 12.92}, "y": {"datum": 100.5}, "y2": {"datum": 101.98}}},
      {"data": {"values": [{"lab": "pCa 5.8"}]}, "mark": {"type": "text", "fontSize": 19, "fontWeight": "bold", "color": "#333333"}, "encoding": {"x": {"datum": 12.7}, "y": {"datum": 101.24}, "text": {"field": "lab"}}}
     ]}
    ]
   }]
  }
 ]
}
